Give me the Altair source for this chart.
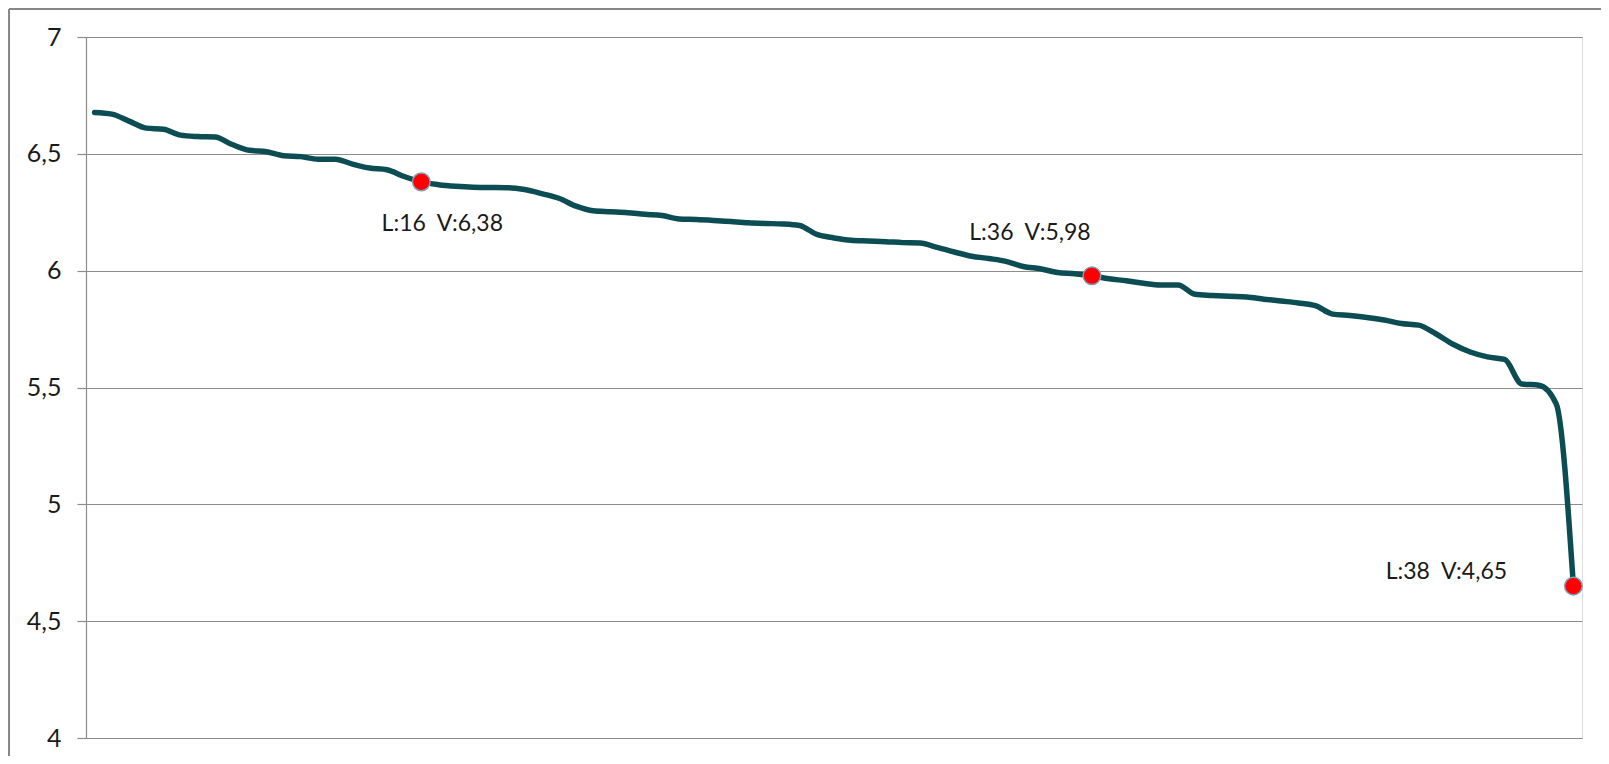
import altair as alt
import pandas as pd

# Series values (index 0..86)
values = [
    6.677, 6.670, 6.640, 6.610, 6.605, 6.580, 6.574, 6.572, 6.540, 6.515,
    6.509, 6.492, 6.488, 6.477, 6.477, 6.456, 6.439, 6.432, 6.403, 6.380,
    6.368, 6.361, 6.357, 6.356, 6.355, 6.347, 6.330, 6.310, 6.276, 6.256,
    6.252, 6.248, 6.241, 6.236, 6.221, 6.219, 6.215, 6.210, 6.205, 6.202,
    6.200, 6.193, 6.155, 6.140, 6.130, 6.127, 6.124, 6.120, 6.118, 6.100,
    6.080, 6.062, 6.052, 6.040, 6.018, 6.008, 5.992, 5.987, 5.978, 5.965,
    5.957, 5.946, 5.939, 5.939, 5.899, 5.894, 5.890, 5.887, 5.878, 5.870,
    5.862, 5.850, 5.814, 5.808, 5.800, 5.789, 5.774, 5.767, 5.730, 5.685,
    5.652, 5.631, 5.620, 5.515, 5.510, 5.430, 4.650,
]
index = list(range(len(values)))

# Highlighted points
mark_index = [19, 58, 86]
mark_L = [16, 36, 38]
mark_V = ["6,38", "5,98", "4,65"]
# label offsets (style)
label_dx = [21, -62, -127]
label_dy = [42, -43, -14]

y_ticks = [4, 4.5, 5, 5.5, 6, 6.5, 7]

df = pd.DataFrame({"idx": index, "v": values})
mk = pd.DataFrame({
    "idx": mark_index,
    "v": [values[i] for i in mark_index],
    "label": [f"L:{l}\u00a0\u00a0V:{v}" for l, v in zip(mark_L, mark_V)],
    "k": [0, 1, 2],
})

W, H = 1496, 701
FONT = "Lato"

xs = alt.X("idx:Q", scale=alt.Scale(domain=[-0.5, len(values) - 0.5], nice=False, zero=False), axis=None)
ys = alt.Y("v:Q", scale=alt.Scale(domain=[4, 7], nice=False, zero=False),
           axis=alt.Axis(values=y_ticks, title=None, grid=True, gridColor="#8c8c8c", gridWidth=1.2,
                         domainColor="#8c8c8c", domainWidth=1.2, tickColor="#8c8c8c", tickSize=9,
                         tickWidth=1.2, labelPadding=16, labelFont=FONT, labelFontSize=25,
                         labelColor="#1a1a1a",
                         labelExpr="replace(toString(datum.value), '.', ',')"))

line = alt.Chart(df).mark_line(color="#0B4D53", strokeWidth=5.5, interpolate="monotone",
                               strokeCap="round").encode(x=xs, y=ys)

pts = alt.Chart(mk).mark_point(filled=True, shape="circle", size=310, fill="#FF0000",
                               stroke="#7f9fb5", strokeWidth=1.5, opacity=1).encode(x=xs, y=ys)

texts = []
for k in range(3):
    texts.append(
        alt.Chart(mk).transform_filter(alt.datum.k == k).mark_text(
            font=FONT, fontSize=23, color="#1a1a1a", dx=label_dx[k], dy=label_dy[k],
            align="center", baseline="middle").encode(x=xs, y=ys, text="label:N")
    )

# outer chart frame (top and left edges visible in the reference)
frame_top = alt.Chart(df).mark_rule(color="#878787", strokeWidth=2, clip=False).encode(
    x=alt.value(-77), x2=alt.value(W + 30), y=alt.value(-28))
frame_left = alt.Chart(df).mark_rule(color="#878787", strokeWidth=2, clip=False).encode(
    x=alt.value(-77), y=alt.value(-28), y2=alt.value(H + 30))

chart = alt.layer(frame_top, frame_left, line, pts, *texts).properties(
    width=W, height=H,
    autosize=alt.AutoSizeParams(type="none"),
    padding={"left": 78, "top": 29, "right": 19, "bottom": 18},
).configure_view(stroke=None).configure(background="white")

chart.save("out.html", embed_options={"renderer": "svg", "actions": False})
